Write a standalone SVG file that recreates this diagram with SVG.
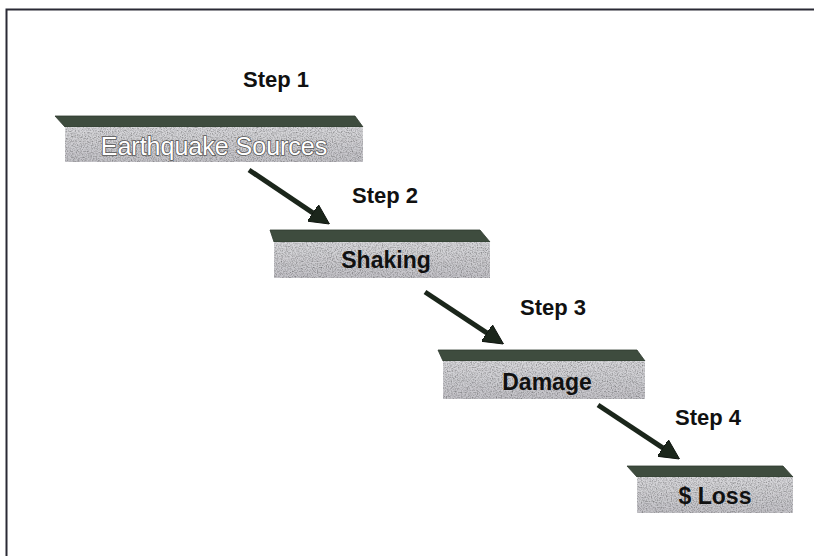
<svg xmlns="http://www.w3.org/2000/svg" width="814" height="556" viewBox="0 0 814 556">
  <defs>
    <style>
      .frame { stroke: #2a2a35; stroke-width: 2; fill: none; }
      .top { fill: #3e4c3e; stroke: #2f3a2f; stroke-width: 0.8; }
      .front { fill: url(#faceGrad); filter: url(#grain); }
      .step { font-family: "Liberation Sans", Arial, sans-serif; font-weight: bold; font-size: 22px; fill: #111; text-anchor: middle; }
      .lbl { font-family: "Liberation Sans", Arial, sans-serif; font-weight: bold; font-size: 23px; fill: #111; text-anchor: middle; }
      .lbl-w { font-family: "Liberation Sans", Arial, sans-serif; font-size: 25px; fill: #ffffff; stroke: #555; stroke-width: 1.6; paint-order: stroke; text-anchor: middle; }
      .arrow { stroke: #1b261b; stroke-width: 5; fill: none; marker-end: url(#head); }
    </style>
    <linearGradient id="faceGrad" x1="0" y1="0" x2="0" y2="1">
      <stop offset="0" stop-color="#d8d8db"/>
      <stop offset="1" stop-color="#c4c3c8"/>
    </linearGradient>
    <filter id="grain" x="0" y="0" width="1" height="1">
      <feTurbulence type="fractalNoise" baseFrequency="0.8" numOctaves="2" seed="3" result="n"/>
      <feColorMatrix in="n" type="matrix" values="0 0 0 0 0  0 0 0 0 0  0 0 0 0 0  0 0 0 -1.3 0.8" result="dots"/>
      <feComposite in="dots" in2="SourceAlpha" operator="in" result="dotsIn"/>
      <feMerge>
        <feMergeNode in="SourceGraphic"/>
        <feMergeNode in="dotsIn"/>
      </feMerge>
    </filter>
    <marker id="head" markerUnits="userSpaceOnUse" markerWidth="20" markerHeight="20" viewBox="0 0 18 18" refX="2" refY="9" orient="auto">
      <path d="M0,0 L18,9 L0,18 z" fill="#1b261b" stroke="#0d120d" stroke-width="0.8"/>
    </marker>
  </defs>

  <rect width="814" height="556" fill="#ffffff"/>
  <path class="frame" d="M6.5,556 L6.5,9.5 L814,9.5"/>

  <g id="step1">
    <text class="step" x="276" y="87">Step 1</text>
    <g id="box1">
      <polygon class="top" points="55,116 355,116 363,127 65,127"/>
      <rect class="front" x="65" y="127" width="298" height="35"/>
      <text class="lbl-w" x="214" y="155">Earthquake Sources</text>
    </g>
  </g>

  <g id="step2">
    <text class="step" x="385" y="203">Step 2</text>
    <g id="box2">
      <polygon class="top" points="270,230 480,230 490,242 274,242"/>
      <rect class="front" x="274" y="242" width="216" height="36"/>
      <text class="lbl" x="386" y="268">Shaking</text>
    </g>
  </g>

  <g id="step3">
    <text class="step" x="553" y="315">Step 3</text>
    <g id="box3">
      <polygon class="top" points="438,350 637,350 645,361 443,361"/>
      <rect class="front" x="443" y="361" width="202" height="38"/>
      <text class="lbl" x="547" y="390">Damage</text>
    </g>
  </g>

  <g id="step4">
    <text class="step" x="708" y="425">Step 4</text>
    <g id="box4">
      <polygon class="top" points="627,466 783,466 793,477 637,477"/>
      <rect class="front" x="637" y="477" width="156" height="36"/>
      <text class="lbl" x="715" y="504">$ Loss</text>
    </g>
  </g>

  <g id="connectors">
    <line class="arrow" x1="249" y1="170" x2="314.7" y2="214.1"/>
    <line class="arrow" x1="425" y1="292" x2="488.7" y2="334.2"/>
    <line class="arrow" x1="598" y1="405" x2="664.7" y2="449.2"/>
  </g>
</svg>
